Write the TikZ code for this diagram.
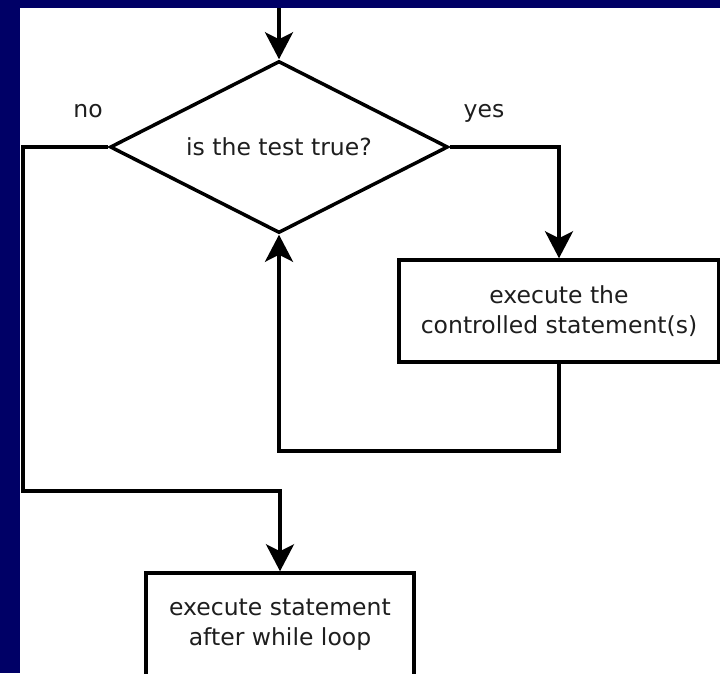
\documentclass[tikz,border=0pt]{standalone}
\usepackage{fontspec}
\setmainfont{DejaVu Sans}
\usetikzlibrary{shapes.geometric,arrows.meta}
\definecolor{navy}{RGB}{0,0,102}
\definecolor{txt}{RGB}{30,30,30}
\begin{document}
\begin{tikzpicture}[x=1pt,y=-1pt,
  every node/.style={font=\fontsize{23.5}{30}\selectfont, text=txt},
  line/.style={line width=3.5pt, draw=black},
  arr/.style={line, -{Stealth[length=27pt,width=28pt,inset=7pt]}},
  stepbox/.style={line, rectangle, fill=white, align=center, inner sep=0pt},
  decision/.style={line, diamond, shape aspect=2, inner sep=0pt, minimum width=338pt, minimum height=172pt},
  lbl/.style={anchor=base}]
\useasboundingbox (0,0) rectangle (720,673);
\fill[navy] (0,0) rectangle (720,673);
\fill[white] (20,8) rectangle (720,673);
\begin{scope}
\clip (20,8) rectangle (720,673);
\node[decision] (dia) at (279,147) {is the test true?};
\node[stepbox, minimum width=320pt, minimum height=102pt] (box1) at (559,311) {execute the\\controlled statement(s)};
\node[stepbox, minimum width=268pt, minimum height=104pt] (box2) at (280,625) {execute statement\\after while loop};
\node[lbl] (no) at (88,117) {no};
\node[lbl] (yes) at (484,117) {yes};
\coordinate (start) at (279,8);
\coordinate (lb) at (559,451);
\coordinate (nl) at (23,491);
\draw[arr] (start) -- (dia.north);
\draw[arr] (dia.east) -| (box1.north);
\draw[arr] (box1.south) -- (lb) -| (dia.south);
\draw[arr] (dia.west) -| (nl) -| (box2.north);
\end{scope}
\end{tikzpicture}
\end{document}
